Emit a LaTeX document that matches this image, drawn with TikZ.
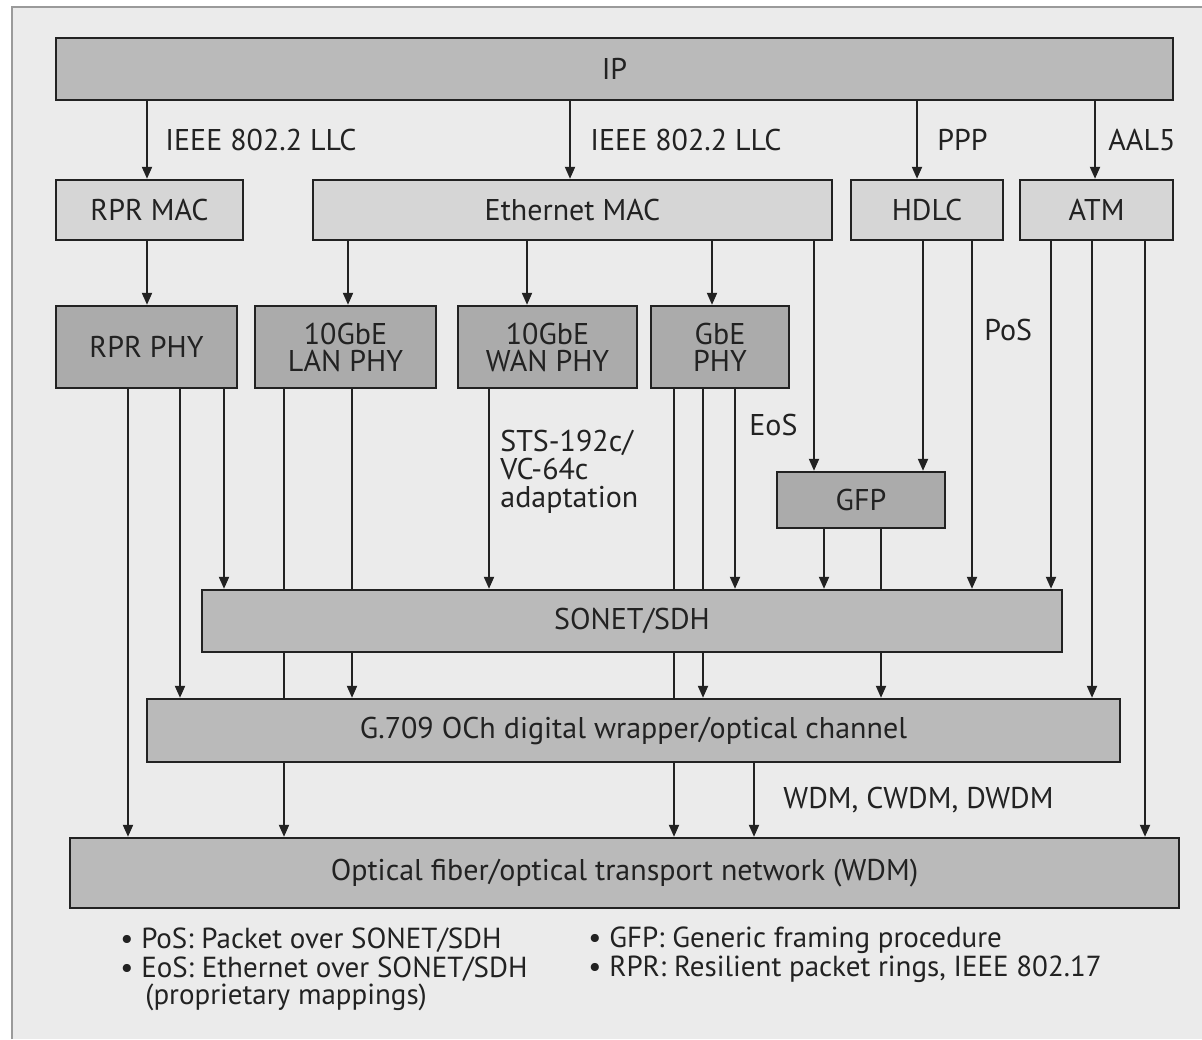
\documentclass[tikz,border=0pt]{standalone}
\usepackage{fontspec}
\setmainfont{PT Sans}
\usetikzlibrary{arrows.meta}
\pgfdeclarelayer{bg}
\pgfsetlayers{bg,main}
\definecolor{panel}{HTML}{EBEBEB}
\definecolor{edge}{HTML}{9A9A9A}
\definecolor{lightbox}{HTML}{D6D6D6}
\definecolor{midbox}{HTML}{BABABA}
\definecolor{darkbox}{HTML}{ABABAB}
\definecolor{ink}{HTML}{222222}
\begin{document}
\begin{tikzpicture}[x=0.5pt,y=-0.5pt,
  box/.style={draw=ink, line width=1.2pt, inner sep=0pt, align=center, text=ink,
              font=\fontsize{15}{13.5}\selectfont},
  lbox/.style={box, fill=lightbox},
  mbox/.style={box, fill=midbox},
  dbox/.style={box, fill=darkbox},
  conn/.style={draw=ink, line width=1pt, -{Triangle[length=6pt,width=5pt]}},
  lbl/.style={anchor=west, inner sep=0pt, text=ink, font=\fontsize{15}{14}\selectfont},
  note/.style={anchor=west, inner sep=0pt, text=ink, font=\fontsize{14.5}{14.3}\selectfont, align=left}
]
\useasboundingbox (0,0) rectangle (1202,1039);

% ---- boxes ----
\node[mbox, minimum width=558.5pt, minimum height=31pt] (ip) at (614.5,69) {IP};
\node[lbox, minimum width=93.5pt, minimum height=30pt] (rprmac) at (149.5,210) {RPR MAC};
\node[lbox, minimum width=259.5pt, minimum height=30pt] (ethmac) at (572.5,210) {Ethernet MAC};
\node[lbox, minimum width=76pt, minimum height=30pt] (hdlc) at (927,210) {HDLC};
\node[lbox, minimum width=76.5pt, minimum height=30pt] (atm) at (1096.5,210) {ATM};
\node[dbox, minimum width=90.5pt, minimum height=41pt] (rprphy) at (146.5,347) {RPR PHY};
\node[dbox, minimum width=90.5pt, minimum height=41pt] (lanphy) at (345.5,347) {10GbE\\LAN PHY};
\node[dbox, minimum width=89.5pt, minimum height=41pt] (wanphy) at (547.5,347) {10GbE\\WAN PHY};
\node[dbox, minimum width=69pt, minimum height=41pt] (gbephy) at (720,347) {GbE\\PHY};
\node[dbox, minimum width=84pt, minimum height=28pt] (gfp) at (861,500) {GFP};
\node[mbox, minimum width=430pt, minimum height=31pt] (sonet) at (632,621) {SONET/SDH};
\node[mbox, minimum width=486.5pt, minimum height=31.5pt] (g709) at (633.5,730.5) {G.709 OCh digital wrapper/optical channel};
\node[mbox, minimum width=554.5pt, minimum height=35pt] (optical) at (624.5,873) {Optical fiber/optical transport network (WDM)};

% ---- labels ----
\node[lbl] (l1) at (165,140) {IEEE 802.2 LLC};
\node[lbl] (l2) at (590,140) {IEEE 802.2 LLC};
\node[lbl] (l3) at (937,140) {PPP};
\node[lbl] (l4) at (1108,140) {AAL5};
\node[lbl] (l5) at (984,330) {PoS};
\node[lbl] (l6) at (749,425) {EoS};
\node[lbl, align=left, anchor=north west] (l7) at (500,430) {STS-192c/\\VC-64c\\adaptation};
\node[lbl] (l8) at (783,800) {WDM, CWDM, DWDM};

% ---- notes ----
\node[note] (n1) at (120,940) {• PoS: Packet over SONET/SDH};
\node[note] (n2) at (120,969) {• EoS: Ethernet over SONET/SDH};
\node[note] (n3) at (145,997) {(proprietary mappings)};
\node[note] (n4) at (588,940) {• GFP: Generic framing procedure};
\node[note] (n5) at (588,969) {• RPR: Resilient packet rings, IEEE 802.17};

\begin{pgfonlayer}{bg}
  \fill[panel] (12,7) rectangle (1202,1039);
  \draw[edge, line width=1.2pt] (12,1039) -- (12,7) -- (1202,7);
  % IP to layer 2
  \draw[conn] (ip.south -| 147,0) -- (rprmac.north -| 147,0);
  \draw[conn] (ip.south -| 570,0) -- (ethmac.north -| 570,0);
  \draw[conn] (ip.south -| 917,0) -- (hdlc.north -| 917,0);
  \draw[conn] (ip.south -| 1095,0) -- (atm.north -| 1095,0);
  % MAC to PHY
  \draw[conn] (rprmac.south -| 147,0) -- (rprphy.north -| 147,0);
  \draw[conn] (ethmac.south -| 348,0) -- (lanphy.north -| 348,0);
  \draw[conn] (ethmac.south -| 527,0) -- (wanphy.north -| 527,0);
  \draw[conn] (ethmac.south -| 712,0) -- (gbephy.north -| 712,0);
  \draw[conn] (ethmac.south -| 814,0) -- (gfp.north -| 814,0);
  \draw[conn] (hdlc.south -| 923,0) -- (gfp.north -| 923,0);
  \draw[conn] (hdlc.south -| 972,0) -- (sonet.north -| 972,0);
  \draw[conn] (atm.south -| 1051,0) -- (sonet.north -| 1051,0);
  \draw[conn] (atm.south -| 1092,0) -- (g709.north -| 1092,0);
  \draw[conn] (atm.south -| 1145,0) -- (optical.north -| 1145,0);
  % PHY down
  \draw[conn] (rprphy.south -| 128,0) -- (optical.north -| 128,0);
  \draw[conn] (rprphy.south -| 180,0) -- (g709.north -| 180,0);
  \draw[conn] (rprphy.south -| 224,0) -- (sonet.north -| 224,0);
  \draw[conn] (lanphy.south -| 284,0) -- (optical.north -| 284,0);
  \draw[conn] (lanphy.south -| 352,0) -- (g709.north -| 352,0);
  \draw[conn] (wanphy.south -| 489,0) -- (sonet.north -| 489,0);
  \draw[conn] (gbephy.south -| 674,0) -- (optical.north -| 674,0);
  \draw[conn] (gbephy.south -| 703,0) -- (g709.north -| 703,0);
  \draw[conn] (gbephy.south -| 735,0) -- (sonet.north -| 735,0);
  \draw[conn] (gfp.south -| 824,0) -- (sonet.north -| 824,0);
  \draw[conn] (gfp.south -| 881,0) -- (g709.north -| 881,0);
  \draw[conn] (g709.south -| 754,0) -- (optical.north -| 754,0);
\end{pgfonlayer}
\end{tikzpicture}
\end{document}
